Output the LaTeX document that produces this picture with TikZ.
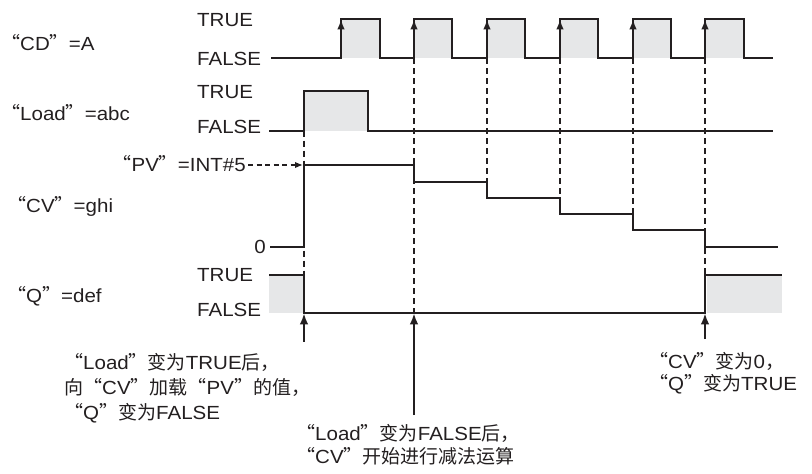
\documentclass[tikz,border=0pt]{standalone}
\usepackage{fontspec}
\setmainfont{Liberation Sans}[FakeStretch=1.08]
\newfontfamily\cjk{Noto Sans CJK SC}
\usetikzlibrary{arrows.meta}
\newcommand{\oq}{{\cjk “}}
\newcommand{\cq}{{\cjk ”}}
\newcommand{\zh}[1]{{\cjk #1}}
\definecolor{ink}{RGB}{35,31,32}
\definecolor{pulsegray}{RGB}{230,231,232}
\begin{document}
\begin{tikzpicture}[x=1pt,y=-1pt,
  sig/.style={line width=2pt, draw=ink, line join=miter},
  hi/.style={fill=pulsegray, draw=none},
  guide/.style={line width=1.7pt, draw=ink, dash pattern=on 6pt off 4pt},
  pvguide/.style={line width=1.5pt, draw=ink, dash pattern=on 5pt off 3.5pt, -{Latex[length=8pt,width=6.5pt]}},
  edgetip/.style={line width=2pt, draw=ink, -{Latex[length=10pt,width=7.5pt]}},
  note/.style={line width=2pt, draw=ink, -{Latex[length=11pt,width=8.5pt]}},
  lab/.style={inner sep=0pt, anchor=base west, font=\fontsize{19}{23}\selectfont, text=ink},
]
\useasboundingbox (0,0) rectangle (812,474);

% shaded high regions
\foreach \r/\f in {341/380,414/452.3,487/525.3,560/598.3,633/671,705/743.7}
  \path[hi] (\r,58.3) rectangle (\f,19.3);
\path[hi] (304,130.7) rectangle (368.3,91);
\path[hi] (269.3,275) rectangle (304,313.3);
\path[hi] (707,275) rectangle (782,313.3);

% dashed guides
\draw[guide] (304,130.7) -- (304,313.3);
\draw[guide] (414,58.3) -- (414,313.3);
\draw[guide] (487,58.3) -- (487,182.3);
\draw[guide] (560,58.3) -- (560,198.3);
\draw[guide] (633,58.3) -- (633,214.3);
\draw[guide] (705,58.3) -- (705,275);

% CD
\draw[sig] (271,58.3)
  \foreach \r/\f in {341/380,414/452.3,487/525.3,560/598.3,633/671,705/743.7}
  { -- (\r,58.3) -- (\r,19.3) -- (\f,19.3) -- (\f,58.3) } -- (773,58.3);
\foreach \r in {341,414,487,560,633,705}
  \draw[edgetip] (\r,45) -- (\r,19.3);

% Load
\draw[sig] (269,130.7) -- (304,130.7) -- (304,91) -- (368.3,91) -- (368.3,130.7) -- (773,130.7);

% CV
\coordinate (cvtop) at (303,165);
\draw[sig] (270,247) -- (304,247) -- (304,165) -- (414,165) -- (414,182.3)
  -- (487,182.3) -- (487,198.3) -- (560,198.3) -- (560,214.3)
  -- (633,214.3) -- (633,230.3) -- (705,230.3) -- (705,246.7) -- (778,246.7);

% Q
\draw[sig] (269,275) -- (304,275) -- (304,313.3) -- (705,313.3) -- (705,275) -- (782,275);

% labels
\node[lab] (cdl) at (1,50) {\oq CD\cq=A};
\node[lab] (loadl) at (1,120) {\oq Load\cq=abc};
\node[lab] (cvl) at (7,212) {\oq CV\cq=ghi};
\node[lab] (ql) at (7,302) {\oq Q\cq=def};
\node[lab, anchor=base east] (pv) at (246,171.7) {\oq PV\cq=INT\#5};
\node[lab, anchor=base east] (zero) at (266,253.3) {0};
\node[lab] (cdt) at (197,26.7) {TRUE};
\node[lab] (cdf) at (197,65) {FALSE};
\node[lab] (ldt) at (197,98.3) {TRUE};
\node[lab] (ldf) at (197,133.3) {FALSE};
\node[lab] (qt) at (197,281.7) {TRUE};
\node[lab] (qf) at (197,316.7) {FALSE};

\draw[pvguide] ([xshift=2pt]pv.east |- cvtop) -- (cvtop);

% annotations (base = baseline of last line)
\node[lab, align=left, font=\fontsize{19}{25}\selectfont] (n1) at (64,419)
  {\oq Load\cq\zh{变为}TRUE\zh{后，}\\\zh{向}\oq CV\cq\zh{加载}\oq PV\cq\zh{的值，}\\\oq Q\cq\zh{变为}FALSE};
\node[lab, align=left, font=\fontsize{19}{23}\selectfont] (n2) at (296,463)
  {\oq Load\cq\zh{变为}FALSE\zh{后，}\\\oq CV\cq\zh{开始进行减法运算}};
\node[lab, align=left, font=\fontsize{19}{21.5}\selectfont] (n3) at (649,390)
  {\oq CV\cq\zh{变为}0\zh{，}\\\oq Q\cq\zh{变为}TRUE};

\coordinate (a1s) at (304,341.7); \coordinate (a1e) at (304,313.3);
\coordinate (a2s) at (414,415);   \coordinate (a2e) at (414,313.3);
\coordinate (a3s) at (705,339);   \coordinate (a3e) at (705,313.3);
\draw[note] (a1s) -- (a1e);
\draw[note] (a2s) -- (a2e);
\draw[note] (a3s) -- (a3e);
\end{tikzpicture}
\end{document}
